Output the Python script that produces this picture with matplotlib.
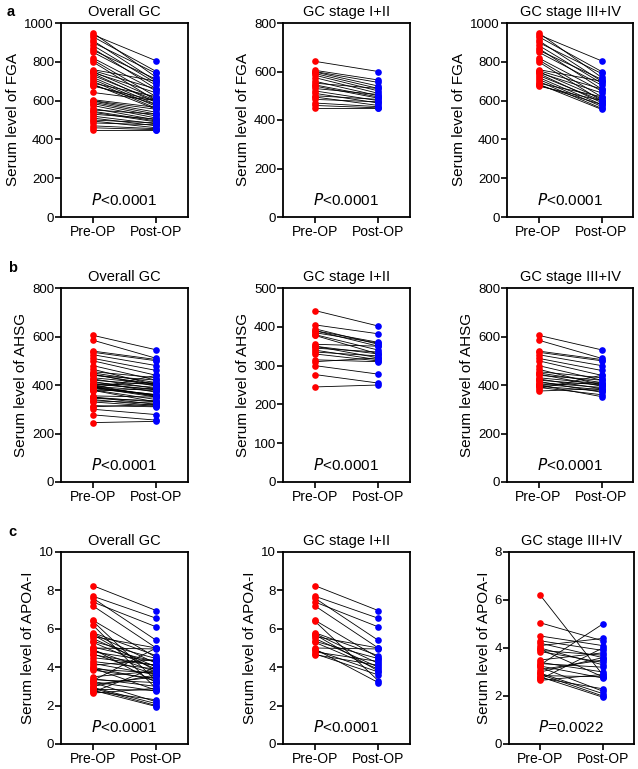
import numpy as np
import matplotlib
matplotlib.use("Agg")
import matplotlib.pyplot as plt

plt.rcParams['font.family'] = ['Liberation Sans', 'DejaVu Sans']

groups = ["Pre-OP", "Post-OP"]
col_titles = ["Overall GC", "GC stage I+II", "GC stage III+IV"]
markers = ["FGA", "AHSG", "APOA-I"]
panel_letters = ["a", "b", "c"]
p_texts = [["<0.0001", "<0.0001", "<0.0001"],
           ["<0.0001", "<0.0001", "<0.0001"],
           ["<0.0001", "<0.0001", "=0.0022"]]

# FGA
fga_pre_12 = [642, 605, 600, 598, 592, 585, 575, 560, 552, 545, 540, 530, 520, 510, 500, 495, 485, 470, 460, 450]
fga_post_12 = [600, 565, 555, 540, 530, 520, 510, 500, 530, 495, 490, 505, 480, 470, 485, 460, 475, 455, 450, 450]
fga_pre_34 = [950, 940, 930, 910, 900, 885, 870, 860, 850, 820, 810, 800, 760, 755, 750, 745, 740, 730, 720, 710, 700, 690, 685, 680, 675]
fga_post_34 = [720, 805, 750, 700, 740, 690, 660, 710, 680, 650, 620, 600, 700, 660, 610, 640, 590, 600, 580, 570, 560, 620, 555, 580, 600]

# AHSG
ahsg_pre_12 = [442, 405, 395, 390, 385, 380, 378, 355, 350, 345, 340, 335, 330, 315, 310, 300, 277, 245, 350, 390]
ahsg_post_12 = [402, 382, 355, 350, 358, 340, 330, 350, 320, 335, 315, 325, 312, 310, 320, 278, 255, 250, 330, 360]
ahsg_pre_34 = [605, 585, 540, 535, 525, 510, 500, 480, 465, 455, 450, 445, 440, 430, 425, 420, 415, 410, 405, 400, 398, 395, 390, 385, 375]
ahsg_post_34 = [545, 510, 505, 500, 480, 460, 440, 420, 400, 430, 410, 395, 420, 405, 385, 400, 370, 390, 380, 352, 410, 375, 360, 440, 385]

# APOA-I
apoa_pre_12 = [8.25, 7.7, 7.6, 7.4, 7.2, 6.45, 6.4, 5.8, 5.75, 5.7, 5.6, 5.5, 5.35, 5.3, 5.0, 4.95, 4.9, 4.8, 4.7, 4.65]
apoa_post_12 = [6.95, 6.55, 5.4, 6.1, 5.0, 4.5, 3.3, 4.6, 4.2, 3.8, 5.0, 4.0, 4.45, 3.9, 4.95, 3.2, 3.75, 4.3, 3.6, 4.1]
apoa_pre_34 = [6.2, 5.05, 4.5, 4.3, 4.2, 4.1, 4.0, 3.95, 3.9, 3.85, 3.5, 3.4, 3.35, 3.3, 3.25, 3.2, 3.1, 2.95, 2.9, 2.85, 2.8, 2.75, 2.7, 2.65, 3.0]
apoa_post_34 = [2.88, 4.3, 4.1, 3.9, 3.6, 4.4, 3.3, 2.8, 3.7, 3.4, 3.8, 3.0, 3.2, 5.0, 2.75, 2.2, 3.5, 2.1, 2.0, 2.8, 1.95, 2.3, 4.0, 2.9, 3.6]

data = {
    "FGA": [(fga_pre_12 + fga_pre_34, fga_post_12 + fga_post_34),
            (fga_pre_12, fga_post_12), (fga_pre_34, fga_post_34)],
    "AHSG": [(ahsg_pre_12 + ahsg_pre_34, ahsg_post_12 + ahsg_post_34),
             (ahsg_pre_12, ahsg_post_12), (ahsg_pre_34, ahsg_post_34)],
    "APOA-I": [(apoa_pre_12 + apoa_pre_34, apoa_post_12 + apoa_post_34),
               (apoa_pre_12, apoa_post_12), (apoa_pre_34, apoa_post_34)],
}

ylims = {"FGA": [1000, 800, 1000], "AHSG": [800, 500, 800], "APOA-I": [10, 10, 8]}
ysteps = {"FGA": [200, 200, 200], "AHSG": [200, 100, 200], "APOA-I": [2, 2, 2]}

W, H = 638, 769
fig = plt.figure(figsize=(W / 100, H / 100), dpi=100)

rows_px = [(23, 217), (288, 482), (552, 744)]
cols_px = [[(61, 188), (283, 410), (507, 633)],
           [(61, 188), (283, 410), (507, 633)],
           [(61, 188), (283, 410), (509, 634)]]
letter_pos = [(7, 12), (8, 268), (8, 532)]

for r, mk in enumerate(markers):
    top, bot = rows_px[r]
    for c in range(3):
        l, rr = cols_px[r][c]
        ax = fig.add_axes([l / W, 1 - bot / H, (rr - l) / W, (bot - top) / H])
        pre, post = data[mk][c]
        for a, b in zip(pre, post):
            ax.plot([0, 1], [a, b], color='black', lw=0.6, zorder=1)
        ax.plot(np.zeros(len(pre)), pre, 'o', color='#ff0000', ms=4.8, mec='none', zorder=2, clip_on=False)
        ax.plot(np.ones(len(post)), post, 'o', color='#0000ff', ms=4.8, mec='none', zorder=2, clip_on=False)
        ax.set_xlim(-0.5, 1.5)
        ax.set_ylim(0, ylims[mk][c])
        ax.set_yticks(np.arange(0, ylims[mk][c] + 1e-9, ysteps[mk][c]))
        ax.set_xticks([0, 1])
        ax.set_xticklabels(groups, fontsize=10)
        ax.tick_params(axis='y', labelsize=9.5, width=1.2, length=4, direction='out', pad=1)
        ax.tick_params(axis='x', width=1.2, length=4, direction='out', pad=2)
        for s in ax.spines.values():
            s.set_linewidth(1.3)
        ax.set_ylabel("Serum level of " + mk, fontsize=11, labelpad=3)
        ax.set_title(col_titles[c], fontsize=10.5, pad=5)
        ax.text(0.5, 0.09, "$\\it{P}$" + p_texts[r][c], transform=ax.transAxes,
                ha='center', va='center', fontsize=11)
    fig.text(letter_pos[r][0] / W, 1 - letter_pos[r][1] / H, panel_letters[r],
             fontsize=10.5, fontweight='bold', ha='left', va='center')

fig.savefig("out.png", dpi=100)
